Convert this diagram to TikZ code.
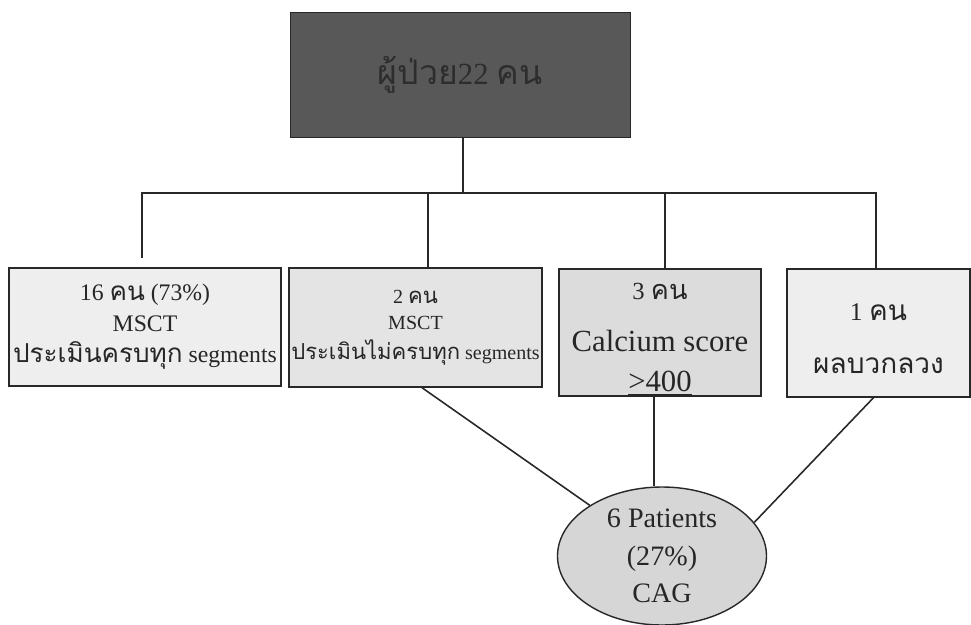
\documentclass[tikz,border=0pt]{standalone}
\usepackage{fontspec}
\setmainfont{Liberation Serif}
\newfontfamily\thaifont[Script=Thai,Scale=1.1]{Loma}
\usepackage{xcolor}
\definecolor{topfill}{RGB}{88,88,88}
\definecolor{toptext}{RGB}{45,45,45}
\definecolor{linegray}{RGB}{40,40,40}
\definecolor{fillA}{RGB}{238,238,238}
\definecolor{fillB}{RGB}{228,228,228}
\definecolor{fillC}{RGB}{220,220,220}
\definecolor{fillE}{RGB}{214,214,214}
\usetikzlibrary{shapes.geometric}
\newcommand{\thtxt}[1]{{\thaifont #1}}

\begin{document}
\begin{tikzpicture}[
  topbox/.style={
    rectangle, draw=linegray, fill=topfill,
    minimum width=6.8cm, minimum height=2.5cm,
    align=center, font=\fontsize{17.5}{20}\selectfont\color{toptext}
  },
  grp/.style={
    rectangle, draw=linegray, thick, inner sep=1pt,
    align=center, font=\fontsize{13.5}{17.6}\selectfont\color{black!85}
  },
  cagnode/.style={
    ellipse, draw=linegray, thick, fill=fillE,
    minimum width=4.18cm, minimum height=2.76cm, inner sep=0pt,
    align=center, font=\fontsize{16}{21.5}\selectfont\color{black!85}
  },
  link/.style={draw=linegray, line width=0.9pt},
]
\useasboundingbox (0,0) rectangle (19.42,-12.5);

%% ผู้ป่วยทั้งหมด
\node[topbox] (top) at (9.2, -1.49) {\raisebox{-0.08cm}{\thtxt{ผู้ป่วย}22 \thtxt{คน}}};

%% กลุ่มผู้ป่วย
\node[grp, fill=fillA, minimum width=5.44cm, minimum height=2.36cm]
  (b1) at (2.9, -6.54)
  {16 \thtxt{คน} (73\%)\\MSCT\\\thtxt{ประเมินครบทุก} segments};
\node[grp, fill=fillB, minimum width=5.06cm, minimum height=2.38cm,
      font=\fontsize{11.4}{15}\selectfont\color{black!85}]
  (b2) at (8.31, -6.55)
  {2 \thtxt{คน}\\MSCT\\[2pt]\thtxt{ประเมินไม่ครบทุก} segments};
\node[grp, fill=fillC, minimum width=4.04cm, minimum height=2.54cm,
      font=\fontsize{17.5}{20}\selectfont\color{black!85}]
  (b3) at (13.2, -6.65)
  {\rule{0pt}{0.56cm}{\fontsize{14}{16}\selectfont 3 \thtxt{คน}}\\[10pt]Calcium score\\[2.5pt]\raisebox{0pt}[\height][1.5pt]{\underline{>400}}};
\node[grp, fill=fillA, minimum width=3.66cm, minimum height=2.56cm,
      font=\fontsize{14.5}{17}\selectfont\color{black!85}]
  (b4) at (17.57, -6.66)
  {\rule{0pt}{0.55cm}1 \thtxt{คน}\\[13pt]\thtxt{ผลบวกลวง}};

%% ทำ CAG
\node[cagnode] (cag) at (13.24, -11.12) {6 Patients\\(27\%)\\CAG};

%% เส้นแยกกลุ่ม
\coordinate (d0) at (9.26, -3.86);
\coordinate (d1) at (2.84, -3.86);
\coordinate (d1e) at (2.84, -5.16);
\coordinate (d2) at (8.56, -3.86);
\coordinate (d3) at (13.3, -3.86);
\coordinate (d4) at (17.52, -3.86);

\draw[link] (d0 |- top.south) -- (d0);
\draw[link] (d1e) -- (d1) -- (d4) -- (d4 |- b4.north);
\draw[link] (d2) -- (d2 |- b2.north);
\draw[link] (d3) -- (d3 |- b3.north);

%% เส้นไปยัง CAG
\draw[link] ([xshift=1.3mm]b2.south) -- (cag);
\draw[link] ([xshift=-1.2mm]b3.south) -- ([xshift=-1.2mm]b3.south |- cag.north);
\draw[link] ([xshift=-1mm]b4.south) -- (cag.20);

\end{tikzpicture}
\end{document}
